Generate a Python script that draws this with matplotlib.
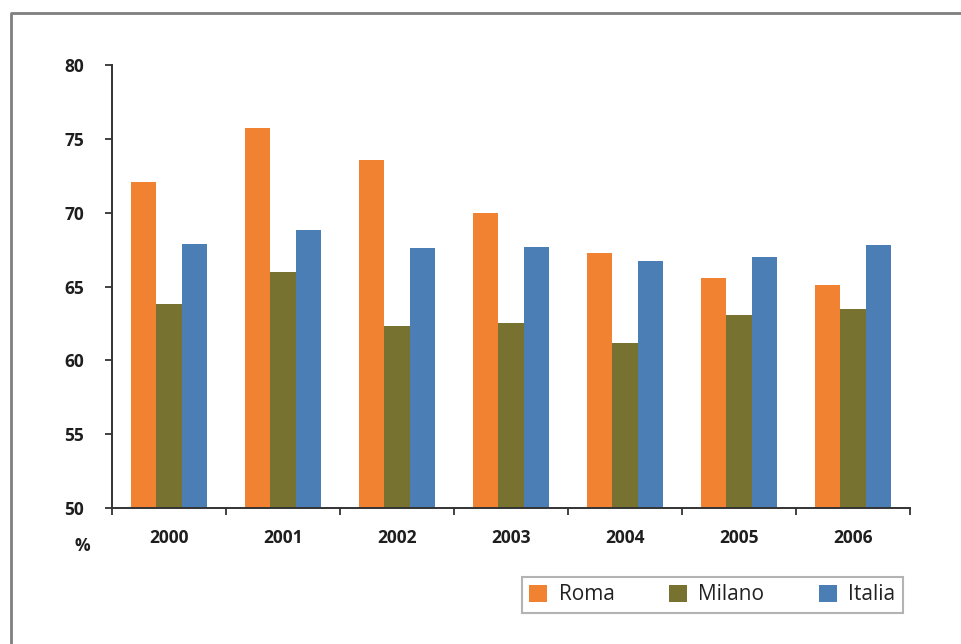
import numpy as np
import matplotlib
matplotlib.use('Agg')
import matplotlib.pyplot as plt
from matplotlib.lines import Line2D

years = ['2000', '2001', '2002', '2003', '2004', '2005', '2006']
roma = [72.1, 75.7, 73.6, 70.0, 67.3, 65.6, 65.1]
milano = [63.8, 66.0, 62.3, 62.5, 61.2, 63.1, 63.5]
italia = [67.9, 68.8, 67.6, 67.7, 66.7, 67.0, 67.8]

series = [('Roma', roma, '#f08232'), ('Milano', milano, '#787230'), ('Italia', italia, '#4a7eb5')]

plt.rcParams['font.family'] = ['Open Sans', 'DejaVu Sans']

fig = plt.figure(figsize=(9.62, 6.44), dpi=100)
ax = fig.add_axes([112/962, 1-508/644, 798/962, 443/644])

x = np.arange(len(years))
w = 0.22
for i, (name, vals, col) in enumerate(series):
    ax.bar(x + (i - 1)*w, np.array(vals) - 50, width=w, bottom=50, color=col, label=name)

ax.set_xlim(-0.5, len(years) - 0.5)
ax.set_ylim(50, 80)
ax.set_yticks(range(50, 81, 5))
ax.set_xticks(x)
ax.set_xticklabels(years)
ax.set_xticks(np.arange(-0.5, len(years)), minor=True)
ax.tick_params(axis='x', which='major', length=0, pad=15)
ax.tick_params(axis='x', which='minor', length=5, width=1.3, color='#333333', direction='out')
ax.tick_params(axis='y', length=5, width=1.3, color='#333333', pad=15)
for lab in ax.get_xticklabels() + ax.get_yticklabels():
    lab.set_fontsize(12.5)
    lab.set_fontweight('bold')
    lab.set_color('#1e1e1e')
for s in ['top', 'right']:
    ax.spines[s].set_visible(False)
for s in ['left', 'bottom']:
    ax.spines[s].set_linewidth(1.4)
    ax.spines[s].set_color('#333333')

fig.text(82/962, 1-546/644, '%', fontsize=12.5, fontweight='bold', color='#1e1e1e',
         ha='center', va='center')

leg = fig.legend(loc='upper left', bbox_to_anchor=(522/962, 1-577/644), ncol=3,
                 fontsize=15, frameon=True, fancybox=False, borderaxespad=0,
                 handlelength=0.87, handleheight=0.87, handletextpad=0.55,
                 columnspacing=2.6, borderpad=0.35)
leg.get_frame().set_edgecolor('#a0a0a0')
leg.get_frame().set_linewidth(1.5)
for t in leg.get_texts():
    t.set_color('#222222')

# outer frame, open at right and bottom
fx = 10.5/962
fy = 1 - 12.5/644
fig.add_artist(Line2D([fx, fx, 1.0], [0.0, fy, fy], transform=fig.transFigure,
                      color='#7f7f7f', linewidth=2.0))

fig.savefig('out.png', dpi=100)
